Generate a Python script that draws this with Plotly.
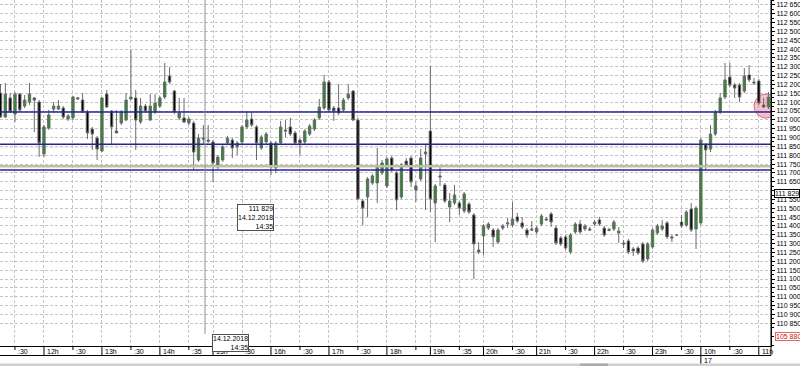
import plotly.graph_objects as go

# ---------------- data (M5 candles) ----------------
open_ = [112152,112016,112124,112033,112146,112078,112101,112124,112101,111807,
         111954,112061,112061,112067,112005,112011,112118,112112,112045,111948,
         111897,111824,112146,112050,111937,111982,111999,112118,112124,111988,
         112078,111999,112045,112078,112129,112248,112163,112011,112011,111982,
         111982,111773,111897,111886,111875,111733,111773,111869,111886,111847,
         111875,111960,112005,111960,111841,111875,111869,111728,111869,111943,
         111960,111926,111886,111875,111920,111948,112011,112067,112214,112067,
         112067,112056,112124,112163,111999,111541,111564,111643,111643,111700,
         111626,111784,111700,111564,111767,111784,111603,111666,111807,111937,
         111530,111683,111632,111507,111530,111530,111485,111524,111462,111264,
         111343,111388,111377,111309,111388,111411,111405,111451,111417,111377,
         111383,111366,111411,111439,111468,111388,111332,111338,111253,111366,
         111411,111383,111383,111411,111434,111388,111380,111383,111360,111304,
         111315,111270,111275,111298,111213,111281,111360,111383,111417,111338,
         111349,111422,111405,111496,111383,111417,111858,111835,111920,112045,
         112129,112242,112197,112197,112163,112254,112214,112220,112084,112073]
high_ = [112203,112209,112152,112158,112152,112141,112209,112129,112112,111971,
         112056,112101,112112,112078,112033,112135,112129,112152,112056,111960,
         111909,112129,112169,112056,112056,112056,112152,112395,112169,112124,
         112090,112146,112146,112135,112322,112299,112169,112124,112124,112016,
         111994,111920,111971,111971,111886,111801,111858,111909,111897,111880,
         111971,112045,112045,111971,111914,111931,111880,111880,111994,111999,
         112011,111937,111897,111948,111977,112011,112118,112254,112226,112078,
         112203,112124,112203,112169,112011,111552,111677,111694,111841,111773,
         111790,111795,111711,111756,111784,111795,111649,111835,111858,112305,
         111637,111733,111643,111586,111632,111541,111592,111535,111473,111309,
         111411,111422,111388,111388,111411,111445,111535,111473,111451,111388,
         111428,111400,111468,111451,111479,111400,111343,111349,111360,111422,
         111434,111411,111394,111434,111451,111400,111390,111434,111394,111321,
         111326,111281,111287,111309,111309,111388,111411,111434,111428,111349,
         111352,111462,111490,111530,111513,111897,111869,111971,112056,112152,
         112322,112322,112209,112209,112293,112310,112237,112231,112124,112158]
low_ = [112011,112011,112039,111988,112045,112067,112084,111931,111790,111790,
        111943,112039,112056,112005,111994,111999,112112,112039,111892,111830,
        111773,111818,112067,111858,111926,111971,111994,112112,111830,111977,
        112039,111994,112033,112067,112118,112203,112033,111999,111982,111971,
        111716,111762,111858,111869,111649,111722,111762,111858,111784,111801,
        111864,111948,111960,111773,111830,111864,111688,111700,111858,111903,
        111909,111858,111801,111864,111909,111937,111999,112056,112045,111994,
        112028,112045,112112,111994,111547,111405,111451,111632,111530,111688,
        111615,111705,111490,111552,111733,111620,111535,111654,111490,111479,
        111309,111626,111530,111422,111518,111462,111473,111468,111100,111241,
        111236,111377,111281,111298,111377,111388,111394,111417,111383,111332,
        111371,111355,111400,111428,111394,111292,111287,111264,111241,111355,
        111355,111371,111371,111400,111400,111338,111370,111371,111304,111275,
        111241,111230,111236,111190,111202,111270,111349,111371,111326,111309,
        111346,111388,111394,111366,111270,111405,111716,111818,111909,112033,
        112118,112186,112124,112101,112152,112214,112197,112084,112067,112061]
close_ = [112016,112146,112045,112146,112056,112112,112146,112112,111869,111960,
          112028,112078,112078,112016,112022,112129,112124,112045,111926,111920,
          111835,112124,112073,111960,111926,112045,112112,112129,111999,112078,
          112050,112078,112095,112124,112214,112214,112045,112039,111988,112005,
          111818,111897,111892,111880,111756,111790,111847,111897,111841,111869,
          111960,111999,111971,111869,111903,111920,111733,111869,111960,111937,
          111920,111869,111869,111937,111965,111999,112073,112214,112056,112050,
          112039,112112,112146,111999,111552,111501,111666,111683,111733,111756,
          111779,111716,111547,111745,111745,111649,111626,111784,111818,111552,
          111626,111677,111541,111541,111575,111501,111581,111479,111298,111253,
          111400,111411,111338,111377,111400,111417,111439,111428,111394,111349,
          111377,111388,111456,111434,111422,111304,111298,111275,111349,111411,
          111366,111400,111377,111422,111411,111349,111375,111422,111371,111298,
          111253,111258,111247,111202,111298,111377,111400,111400,111338,111332,
          111349,111400,111479,111377,111501,111886,111830,111920,112045,112124,
          112226,112197,112180,112129,112248,112226,112209,112095,112073,112129]
idx = list(range(len(open_)))

# time-axis labels (placed at candle index)
tick_idx = [3, 9, 15, 21, 27, 33, 39, 44, 50, 56, 62, 68, 74, 80, 86, 89, 95,
            100, 106, 111, 117, 123, 129, 135, 141, 145, 151, 157]
tick_text = [":30", "12h", ":30", "13h", ":30", "14h", ":35", "15h", ":30", "16h",
             ":30", "17h", ":30", "18h", "", "19h", ":35", "20h", ":30", "21h",
             ":30", "22h", ":30", "23h", ":30", "10h", ":30", "11h"]
day_idx, day_text = 145, "17"

# price-axis labels (those hidden behind the label boxes are left blank)
ytick_vals = list(range(110850, 112651, 50))
hidden_ticks = [111600, 110800]
ytick_text = ["" if v in hidden_ticks else f"{v:,}".replace(",", " ") for v in ytick_vals]

# horizontal objects
blue_levels = [112045, 111862, 111716]
khaki_levels = [111737]
yellow_levels = [112025, 111842]

cross_price, cross_date, cross_time = "111 829", "14.12.2018", "14:35"
ask_label = "105 880"

# ---------------- layout geometry ----------------
W, H = 800, 366
ML, MR, MT, MB = 0, 29, 0, 20
PW, PH = W - ML - MR, H - MT - MB
px_per_bar = 4.83
x_lo = -0.5 / px_per_bar
x_hi = x_lo + PW / px_per_bar
units_per_px = 5.656
y_hi = 112678
y_lo = y_hi - PH * units_per_px


def py(pix):  # pixel row -> paper y
    return (PH - pix) / PH


def pxp(pix):  # pixel column -> paper x
    return pix / PW


FONT = "Liberation Sans"
GRID = "#c4c4c4"

fig = go.Figure()
fig.add_trace(go.Candlestick(
    x=idx, open=open_, high=high_, low=low_, close=close_,
    increasing=dict(fillcolor="#2b8a2b", line=dict(color="#6a6a6a", width=1)),
    decreasing=dict(fillcolor="#000000", line=dict(color="#6a6a6a", width=1)),
    whiskerwidth=0, showlegend=False, hoverinfo="skip"))

shapes = []
for lv in yellow_levels:
    shapes.append(dict(type="line", xref="paper", x0=0, x1=1, yref="y", y0=lv, y1=lv,
                       line=dict(color="#efefc8", width=1), layer="between"))
for lv in khaki_levels:
    shapes.append(dict(type="line", xref="paper", x0=0, x1=1, yref="y", y0=lv, y1=lv,
                       line=dict(color="#bdbda8", width=2.5), layer="above"))
for lv in blue_levels:
    shapes.append(dict(type="line", xref="paper", x0=0, x1=1, yref="y", y0=lv, y1=lv,
                       line=dict(color="#2323a0", width=1.5), layer="above"))

# crosshair vertical line
shapes.append(dict(type="line", xref="paper", x0=pxp(205), x1=pxp(205), yref="paper",
                   y0=py(334), y1=1, line=dict(color="#8c8c8c", width=1), layer="above"))

# red highlight circle around the last candles
shapes.append(dict(type="circle", xref="x", yref="y", x0=156.0, x1=161.0,
                   y0=112010, y1=112146, fillcolor="rgba(240,120,140,0.45)",
                   line=dict(color="rgba(205,80,100,0.8)", width=1), layer="between"))

# time axis: separators and short ticks
for i, t in zip(tick_idx, tick_text):
    if i == day_idx:
        yb = 364
    elif t.startswith(":") or t == "":
        yb = 350
    else:
        yb = 355.5
    shapes.append(dict(type="line", xref="x", x0=i, x1=i, yref="paper", y0=py(346),
                       y1=py(yb), line=dict(color="black", width=1)))
shapes.append(dict(type="line", xref="paper", x0=0, x1=1, yref="paper", y0=py(355.5),
                   y1=py(355.5), line=dict(color="black", width=1)))
shapes.append(dict(type="line", xref="paper", x0=1, x1=1, yref="paper", y0=1,
                   y1=py(355.5), line=dict(color="black", width=1)))
shapes.append(dict(type="rect", xref="paper", x0=0, x1=W / PW, yref="paper",
                   y0=py(363.5), y1=py(367), fillcolor="#cfcfcf", line=dict(width=0)))
shapes.append(dict(type="rect", xref="paper", x0=pxp(580), x1=pxp(608), yref="paper",
                   y0=py(363.5), y1=py(367), fillcolor="#ababab", line=dict(width=0)))

annotations = []
for i, t in zip(tick_idx, tick_text):
    if t:
        annotations.append(dict(x=i + 0.35, xref="x", y=py(346.5), yref="paper",
                                xanchor="left", yanchor="top", text=t, showarrow=False,
                                font=dict(family=FONT, size=7, color="black"),
                                borderpad=0))
annotations.append(dict(x=day_idx + 0.35, xref="x", y=py(355.5), yref="paper",
                        xanchor="left", yanchor="top", text=day_text, showarrow=False,
                        font=dict(family=FONT, size=7, color="black"), borderpad=0))

# crosshair labels
annotations.append(dict(x=pxp(274), xref="paper", y=py(203.5), yref="paper",
                        xanchor="right", yanchor="top", align="right",
                        text=f"{cross_price}<br>{cross_date}<br>{cross_time}",
                        showarrow=False, bgcolor="white", bordercolor="#505050",
                        borderwidth=1, borderpad=0,
                        font=dict(family=FONT, size=7, color="black")))
annotations.append(dict(x=pxp(249), xref="paper", y=py(333.5), yref="paper",
                        xanchor="right", yanchor="top", align="right",
                        text=f"{cross_date}<br>{cross_time}",
                        showarrow=False, bgcolor="white", bordercolor="#505050",
                        borderwidth=1, borderpad=0,
                        font=dict(family=FONT, size=7, color="black")))
annotations.append(dict(x=pxp(774), xref="paper", y=py(193), yref="paper",
                        xanchor="left", yanchor="middle", text=cross_price,
                        showarrow=False, bgcolor="white", bordercolor="black",
                        borderwidth=1, borderpad=0,
                        font=dict(family=FONT, size=7, color="black")))
annotations.append(dict(x=pxp(775), xref="paper", y=py(336), yref="paper",
                        xanchor="left", yanchor="middle", text=ask_label,
                        showarrow=False, bgcolor="white", bordercolor="#d86a6a",
                        borderwidth=1, borderpad=0,
                        font=dict(family=FONT, size=7, color="#cc1010")))

fig.update_layout(
    width=W, height=H,
    margin=dict(l=ML, r=MR, t=MT, b=MB, pad=0),
    paper_bgcolor="white", plot_bgcolor="white",
    showlegend=False,
    xaxis=dict(range=[x_lo, x_hi], rangeslider=dict(visible=False),
               tickmode="array", tickvals=tick_idx, showticklabels=False, ticks="",
               showgrid=True, gridcolor=GRID, gridwidth=1, griddash="3px,2px",
               showline=True, linecolor="black", linewidth=1, zeroline=False,
               fixedrange=True),
    yaxis=dict(side="right", range=[y_lo, y_hi], tickmode="array",
               tickvals=ytick_vals, ticktext=ytick_text, ticks="outside", ticklen=3,
               tickcolor="black", tickwidth=1,
               showgrid=True, gridcolor=GRID, gridwidth=1, griddash="3px,2px",
               showline=True, linecolor="black", linewidth=1, zeroline=False,
               tickfont=dict(family=FONT, size=7, color="black"),
               minor=dict(tickmode="linear", tick0=110825, dtick=50,
                          ticks="outside", ticklen=2, tickcolor="black",
                          showgrid=False),
               fixedrange=True),
    shapes=shapes, annotations=annotations,
)

fig.write_html("out.html")
